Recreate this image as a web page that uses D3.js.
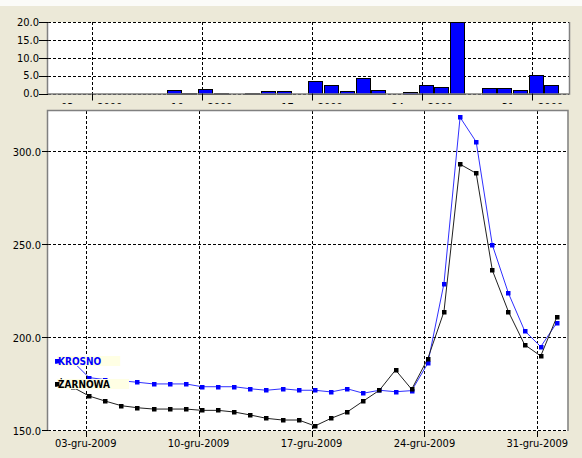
<!DOCTYPE html>
<html>
<head>
<meta charset="utf-8">
<script src="https://cdn.jsdelivr.net/npm/d3@7"></script>
<style>
  body { margin: 0; background: #ECE9D8; }
  svg { display: block; }
  text { font-family: 'Liberation Sans Narrow', 'Arial Narrow', 'DejaVu Sans Condensed', sans-serif; }
</style>
</head>
<body>
<script>
// ---------- DATA ----------
const dates = [
  "2009-12-01","2009-12-02","2009-12-03","2009-12-04","2009-12-05","2009-12-06","2009-12-07","2009-12-08",
  "2009-12-09","2009-12-10","2009-12-11","2009-12-12","2009-12-13","2009-12-14","2009-12-15","2009-12-16",
  "2009-12-17","2009-12-18","2009-12-19","2009-12-20","2009-12-21","2009-12-22","2009-12-23","2009-12-24",
  "2009-12-25","2009-12-26","2009-12-27","2009-12-28","2009-12-29","2009-12-30","2009-12-31","2010-01-01"
];
const krosno = [
  187.8, 187.3, 178.7, 177.6, 177.0, 176.2, 175.3, 175.3,
  175.3, 173.8, 173.8, 173.8, 172.7, 171.9, 172.7, 171.9,
  171.9, 171.0, 172.7, 170.3, 171.9, 171.1, 171.7, 186.4,
  229.2, 318.6, 305.4, 250.0, 224.0, 203.9, 195.3, 208.2
];
const zarnowa = [
  175.3, 173.5, 168.8, 166.1, 163.6, 162.5, 161.8, 161.8,
  161.8, 161.1, 161.1, 160.2, 158.6, 156.8, 155.9, 155.9,
  152.7, 156.8, 160.2, 166.1, 171.9, 182.8, 172.4, 188.9,
  214.1, 293.4, 288.5, 236.4, 214.1, 196.4, 190.3, 211.3
];
const bars = [
  0, 0, 0, 0, 0, 0, 0, 0.9,
  0.2, 1.2, 0.2, 0, 0.2, 0.7, 0.7, 0,
  3.5, 2.3, 0.6, 4.2, 0.9, 0, 0.3, 2.3,
  1.8, 20, 0, 1.6, 1.6, 0.9, 5.1, 2.5
];
const seriesNames = ["KROSNO", "ŻARNOWA"];
const tickDates = ["2009-12-03","2009-12-10","2009-12-17","2009-12-24","2009-12-31"];
const mainYTicks = [150, 200, 250, 300];
const topYTicks = [0, 5, 10, 15, 20];
const obsHour = 5;

// ---------- SETUP ----------
const pl = d3.timeFormatLocale({
  dateTime: "%A, %e %B %Y, %X", date: "%d.%m.%Y", time: "%H:%M:%S",
  periods: ["AM", "PM"],
  days: ["niedziela","poniedziałek","wtorek","środa","czwartek","piątek","sobota"],
  shortDays: ["niedz.","pon.","wt.","śr.","czw.","pt.","sob."],
  months: ["styczeń","luty","marzec","kwiecień","maj","czerwiec","lipiec","sierpień","wrzesień","październik","listopad","grudzień"],
  shortMonths: ["sty","lut","mar","kwi","maj","cze","lip","sie","wrz","paź","lis","gru"]
});
const fmtDate = pl.format("%d-%b-%Y");
const parseDay = d3.timeParse("%Y-%m-%d");
const obsTimes = dates.map(s => d3.timeHour.offset(parseDay(s), obsHour));
const ticks = tickDates.map(parseDay);

const W = 582, H = 458;
const svg = d3.select("body").append("svg").attr("width", W).attr("height", H);
svg.append("rect").attr("width", W).attr("height", H).attr("fill", "#ECE9D8");
svg.append("rect").attr("width", W).attr("height", 6).attr("fill", "#FBFBF8");

// ---------- TOP PANEL (bars) ----------
const T = {l: 48, r: 569, t: 22, b: 93.5};
const xTop = d3.scaleTime()
  .domain([new Date(2009, 10, 30, 5, 23), new Date(2010, 0, 2, 7, 40)])
  .range([T.l, T.r]);
const yTop = d3.scaleLinear().domain([0, 20]).range([T.b, T.t]);

const topG = svg.append("g");
topG.append("rect").attr("x", T.l).attr("y", T.t).attr("width", T.r - T.l).attr("height", T.b - T.t)
  .attr("fill", "#fff");

svg.append("defs").append("clipPath").attr("id", "topLabClip")
  .append("rect").attr("x", 0).attr("y", 0).attr("width", W).attr("height", 104);

// grid
topG.selectAll("line.hg").data(topYTicks).join("line")
  .attr("x1", T.l).attr("x2", T.r)
  .attr("y1", d => Math.round(yTop(d)) + 0.5).attr("y2", d => Math.round(yTop(d)) + 0.5)
  .attr("stroke", "#000").attr("stroke-dasharray", "3,2");
topG.selectAll("line.vg").data(ticks).join("line")
  .attr("x1", d => Math.round(xTop(d)) + 0.5).attr("x2", d => Math.round(xTop(d)) + 0.5)
  .attr("y1", T.t).attr("y2", T.b)
  .attr("stroke", "#000").attr("stroke-dasharray", "3,2");

// bars
const halfBar = 10.7; // hours
topG.selectAll("rect.bar").data(bars.map((v, i) => ({v, t: obsTimes[i]})).filter(d => d.v > 0)).join("rect")
  .attr("x", d => Math.round(xTop(d3.timeMinute.offset(d.t, -halfBar * 60))) + 0.5)
  .attr("width", d => Math.round(xTop(d3.timeMinute.offset(d.t, halfBar * 60)) - xTop(d3.timeMinute.offset(d.t, -halfBar * 60))))
  .attr("y", d => Math.round(yTop(d.v)) + 0.5)
  .attr("height", d => Math.max(0, Math.round(yTop(0)) - Math.round(yTop(d.v))))
  .attr("fill", "#0000FF").attr("stroke", "#000").attr("stroke-width", 1);

// frame (left, bottom, right)
topG.append("path")
  .attr("d", `M${T.l - 0.5},${T.t} V${T.b + 0.5} H${T.r + 0.5} V${T.t}`)
  .attr("fill", "none").attr("stroke", "#808080").attr("stroke-width", 1.5);

// y axis
const topYAxis = topG.append("g");
topYAxis.selectAll("line").data(topYTicks).join("line")
  .attr("x1", T.l - 9).attr("x2", T.l)
  .attr("y1", d => Math.round(yTop(d)) + 0.5).attr("y2", d => Math.round(yTop(d)) + 0.5)
  .attr("stroke", "#000");
topYAxis.selectAll("text").data(topYTicks).join("text")
  .attr("x", T.l - 9).attr("y", d => yTop(d)).attr("dy", "0.35em")
  .attr("text-anchor", "end").attr("font-size", 11).text(d3.format(".1f"));

// x axis (labels clipped)
const topXAxis = topG.append("g");
topXAxis.selectAll("line").data(ticks).join("line")
  .attr("x1", d => Math.round(xTop(d)) + 0.5).attr("x2", d => Math.round(xTop(d)) + 0.5)
  .attr("y1", T.b).attr("y2", T.b + 7).attr("stroke", "#000");
topXAxis.append("g").attr("clip-path", "url(#topLabClip)")
  .selectAll("text").data(ticks).join("text")
  .attr("x", d => xTop(d)).attr("y", T.b + 17)
  .attr("text-anchor", "middle").attr("font-size", 11).text(d => fmtDate(d));

// ---------- MAIN PANEL (lines) ----------
const M = {l: 48, r: 567.5, t: 111, b: 431};
const xMain = d3.scaleTime()
  .domain([new Date(2009, 10, 30, 15, 55), new Date(2010, 0, 1, 20, 50)])
  .range([M.l, M.r]);
const yMain = d3.scaleLinear().domain([150, 322]).range([M.b, M.t]);

const mainG = svg.append("g");
mainG.append("rect").attr("x", M.l).attr("y", M.t).attr("width", M.r - M.l).attr("height", M.b - M.t)
  .attr("fill", "#fff");

mainG.selectAll("line.hg").data(mainYTicks).join("line")
  .attr("x1", M.l).attr("x2", M.r)
  .attr("y1", d => Math.round(yMain(d)) - 0.5).attr("y2", d => Math.round(yMain(d)) - 0.5)
  .attr("stroke", "#000").attr("stroke-dasharray", "3,2");
mainG.selectAll("line.vg").data(ticks).join("line")
  .attr("x1", d => Math.round(xMain(d)) + 0.5).attr("x2", d => Math.round(xMain(d)) + 0.5)
  .attr("y1", M.t).attr("y2", M.b)
  .attr("stroke", "#000").attr("stroke-dasharray", "3,2");

// frame (left, top, right)
mainG.append("path")
  .attr("d", `M${M.l - 0.5},${M.b} V${M.t - 0.5} H${M.r + 0.5} V${M.b}`)
  .attr("fill", "none").attr("stroke", "#808080").attr("stroke-width", 1.5);

// y axis
const mainYAxis = mainG.append("g");
mainYAxis.selectAll("line").data(mainYTicks).join("line")
  .attr("x1", M.l - 6).attr("x2", M.l)
  .attr("y1", d => Math.round(yMain(d)) - 0.5).attr("y2", d => Math.round(yMain(d)) - 0.5)
  .attr("stroke", "#000");
mainYAxis.selectAll("text").data(mainYTicks).join("text")
  .attr("x", M.l - 7).attr("y", d => yMain(d)).attr("dy", "0.35em")
  .attr("text-anchor", "end").attr("font-size", 11).text(d3.format(".1f"));

// x axis
const mainXAxis = mainG.append("g");
mainXAxis.selectAll("line").data(ticks).join("line")
  .attr("x1", d => Math.round(xMain(d)) + 0.5).attr("x2", d => Math.round(xMain(d)) + 0.5)
  .attr("y1", M.b).attr("y2", M.b + 6).attr("stroke", "#000");
mainXAxis.selectAll("text").data(ticks).join("text")
  .attr("x", d => xMain(d)).attr("y", M.b + 16)
  .attr("text-anchor", "middle").attr("font-size", 11).text(d => fmtDate(d));

// series
const series = [
  {name: seriesNames[0], values: krosno, color: "#0000FF", line: "#3030FF"},
  {name: seriesNames[1], values: zarnowa, color: "#000000", line: "#202020"}
];
const lineGen = d3.line().x(d => xMain(d.t)).y(d => yMain(d.v));
series.forEach(s => {
  const pts = s.values.map((v, i) => ({v, t: obsTimes[i]}));
  s.pts = pts;
  mainG.append("path").datum(pts).attr("d", lineGen)
    .attr("fill", "none").attr("stroke", s.line).attr("stroke-width", 1);
  mainG.append("g").selectAll("rect").data(pts).join("rect")
    .attr("x", d => Math.round(xMain(d.t)) - 2).attr("y", d => Math.round(yMain(d.v)) - 2)
    .attr("width", 4.5).attr("height", 4.5).attr("fill", s.color);
});

// series labels at first point
series.forEach(s => {
  const p = s.pts[0];
  const x0 = Math.round(xMain(p.t)), y0 = Math.round(yMain(p.v));
  const g = mainG.append("g");
  const bg = g.append("rect").attr("fill", "#FFFFE4");
  const t = g.append("text").attr("x", x0 + 1).attr("y", y0).attr("dy", "0.36em")
    .attr("font-family", "'Liberation Sans', Arial, sans-serif")
    .attr("font-weight", "bold").attr("font-size", 10).attr("fill", s.color).text(s.name);
  const w = t.node().getComputedTextLength();
  bg.attr("x", x0).attr("y", y0 - 5).attr("width", w + 20).attr("height", 10);
  g.append("rect").attr("x", x0 - 2).attr("y", y0 - 2).attr("width", 4.5).attr("height", 4.5).attr("fill", s.color);
  t.raise();
});
</script>
</body>
</html>
